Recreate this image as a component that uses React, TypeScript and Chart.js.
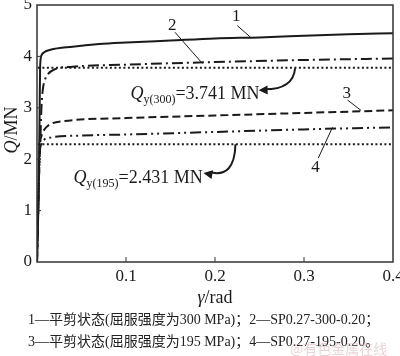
import React, { useEffect, useRef } from "react";
import { Chart, registerables } from "chart.js";

Chart.register(...registerables);

// ---- data ----
const gamma1 = [0, 0.002, 0.003, 0.0035, 0.005, 0.008, 0.015, 0.04, 0.07, 0.1, 0.15, 0.2, 0.25, 0.3, 0.35, 0.4];
const q1 = [0, 1.5, 3.0, 3.8, 4.02, 4.08, 4.13, 4.19, 4.24, 4.27, 4.31, 4.35, 4.37, 4.4, 4.43, 4.45];

const gamma2 = [0, 0.002, 0.004, 0.005, 0.0065, 0.009, 0.012, 0.02, 0.04, 0.1, 0.2, 0.3, 0.4];
const q2 = [0, 1.5, 2.5, 3.0, 3.35, 3.55, 3.65, 3.75, 3.8, 3.84, 3.89, 3.93, 3.96];

const gamma3 = [0, 0.002, 0.003, 0.005, 0.008, 0.015, 0.03, 0.1, 0.2, 0.3, 0.4];
const q3 = [0, 1.5, 2.2, 2.45, 2.57, 2.68, 2.74, 2.8, 2.85, 2.9, 2.95];

const gamma4 = [0, 0.002, 0.003, 0.005, 0.008, 0.015, 0.05, 0.1, 0.2, 0.3, 0.4];
const q4 = [0, 1.5, 2.1, 2.3, 2.38, 2.42, 2.46, 2.48, 2.53, 2.58, 2.62];

const gammaYield = [0.001, 0.4];
const qYield300 = [3.78, 3.78];
const qYield195 = [2.29, 2.29];

const xTicks = [0.1, 0.2, 0.3, 0.4];
const yTicks = [0, 1, 2, 3, 4, 5];

const captionLines = [
  "1—平剪状态(屈服强度为300 MPa)；2—SP0.27-300-0.20；",
  "3—平剪状态(屈服强度为195 MPa)；4—SP0.27-195-0.20。",
];

const pts = (xs: number[], ys: number[]) => xs.map((x, i) => ({ x, y: ys[i] }));

const SERIF = "'Liberation Serif', 'Times New Roman', serif";
const INK = "#1a1a1a";

const decorPlugin = {
  id: "decor",
  afterDatasetsDraw(chart: any) {
    const { ctx, chartArea: a, scales } = chart;
    const xs = scales.x, ys = scales.y;
    const px = (v: number) => xs.getPixelForValue(v);
    const py = (v: number) => ys.getPixelForValue(v);
    ctx.save();
    // frame
    ctx.strokeStyle = "#333";
    ctx.lineWidth = 1.5;
    ctx.strokeRect(a.left, a.top, a.right - a.left, a.bottom - a.top);
    // inward ticks
    ctx.lineWidth = 1;
    ctx.beginPath();
    xTicks.forEach((t) => {
      if (t >= 0.4) return;
      ctx.moveTo(px(t), a.bottom);
      ctx.lineTo(px(t), a.bottom - 5);
    });
    yTicks.forEach((t) => {
      if (t <= 0 || t >= 5) return;
      ctx.moveTo(a.left, py(t));
      ctx.lineTo(a.left + 4, py(t));
    });
    ctx.stroke();

    ctx.fillStyle = INK;
    ctx.strokeStyle = INK;
    ctx.textBaseline = "middle";
    ctx.textAlign = "center";
    ctx.font = `17px ${SERIF}`;
    const labels: [string, number, number][] = [
      ["1", 0.224, 4.78],
      ["2", 0.152, 4.6],
      ["3", 0.348, 3.28],
      ["4", 0.313, 1.84],
    ];
    labels.forEach(([t, x, y]) => ctx.fillText(t, px(x), py(y)));
    // leaders
    ctx.lineWidth = 1;
    const leaders: [number, number, number, number][] = [
      [0.225, 4.6, 0.24, 4.37],
      [0.155, 4.47, 0.186, 3.86],
      [0.349, 3.15, 0.364, 2.95],
      [0.316, 2.02, 0.332, 2.62],
    ];
    ctx.beginPath();
    leaders.forEach(([x0, y0, x1, y1]) => {
      ctx.moveTo(px(x0), py(y0));
      ctx.lineTo(px(x1), py(y1));
    });
    ctx.stroke();

    // Q labels
    const qLabel = (x: number, y: number, sub: string, rest: string) => {
      let cx = px(x);
      const cy = py(y);
      ctx.textAlign = "left";
      ctx.textBaseline = "alphabetic";
      ctx.font = `italic 18px ${SERIF}`;
      ctx.fillText("Q", cx, cy);
      cx += ctx.measureText("Q").width;
      ctx.font = `12px ${SERIF}`;
      ctx.fillText(sub, cx, cy + 4);
      cx += ctx.measureText(sub).width;
      ctx.font = `18px ${SERIF}`;
      ctx.fillText(rest, cx, cy);
    };
    qLabel(0.105, 3.17, "y(300)", "=3.741 MN");
    qLabel(0.041, 1.53, "y(195)", "=2.431 MN");

    // arrows
    const arrow = (sx: number, sy: number, cxv: number, cyv: number, ex: number, ey: number) => {
      const x0 = px(sx), y0 = py(sy), c1 = px(cxv), c2 = py(cyv), x1 = px(ex), y1 = py(ey);
      ctx.lineWidth = 2;
      ctx.beginPath();
      ctx.moveTo(x0, y0);
      ctx.quadraticCurveTo(c1, c2, x1 + 6, y1 - 1);
      ctx.stroke();
      const ang = Math.atan2(y1 - c2, x1 - c1);
      const L = 9, W = 4.5;
      ctx.beginPath();
      ctx.moveTo(x1, y1);
      ctx.lineTo(x1 - L * Math.cos(ang) + W * Math.sin(ang), y1 - L * Math.sin(ang) - W * Math.cos(ang));
      ctx.lineTo(x1 - L * Math.cos(ang) - W * Math.sin(ang), y1 - L * Math.sin(ang) + W * Math.cos(ang));
      ctx.closePath();
      ctx.fill();
    };
    arrow(0.29, 3.77, 0.288, 3.36, 0.249, 3.34);
    arrow(0.223, 2.29, 0.222, 1.62, 0.187, 1.73);

    // axis titles
    ctx.textBaseline = "middle";
    ctx.font = `italic 18px ${SERIF}`;
    const g = "γ";
    ctx.font = `18px ${SERIF}`;
    const restX = "/rad";
    ctx.font = `italic 18px ${SERIF}`;
    const wg = ctx.measureText(g).width;
    ctx.font = `18px ${SERIF}`;
    const wr = ctx.measureText(restX).width;
    let tx = 215 - (wg + wr) / 2;
    ctx.textAlign = "left";
    ctx.font = `italic 18px ${SERIF}`;
    ctx.fillText(g, tx, 298);
    ctx.font = `18px ${SERIF}`;
    ctx.fillText(restX, tx + wg, 298);

    ctx.translate(12, 130);
    ctx.rotate(-Math.PI / 2);
    ctx.font = `italic 18px ${SERIF}`;
    const wq = ctx.measureText("Q").width;
    ctx.font = `18px ${SERIF}`;
    const wm = ctx.measureText("/MN").width;
    const sx0 = -(wq + wm) / 2;
    ctx.font = `italic 18px ${SERIF}`;
    ctx.fillText("Q", sx0, 0);
    ctx.font = `18px ${SERIF}`;
    ctx.fillText("/MN", sx0 + wq, 0);
    ctx.restore();
  },
};

export default function App() {
  const ref = useRef<HTMLCanvasElement | null>(null);
  useEffect(() => {
    document.body.style.margin = "0";
    const base = { fill: false, pointRadius: 0, tension: 0.3, borderColor: INK, cubicInterpolationMode: "monotone" as const };
    const chart = new Chart(ref.current!, {
      type: "line",
      data: {
        datasets: [
          { ...base, label: "1", data: pts(gamma1, q1), borderWidth: 2 },
          { ...base, label: "2", data: pts(gamma2, q2), borderWidth: 2, borderDash: [11, 4, 2, 4] },
          { ...base, label: "3", data: pts(gamma3, q3), borderWidth: 2, borderDash: [8, 4] },
          { ...base, label: "4", data: pts(gamma4, q4), borderWidth: 2, borderDash: [11, 4, 2, 4, 2, 4] },
          { ...base, label: "Qy300", data: pts(gammaYield, qYield300), borderWidth: 2, borderDash: [2, 2.5], tension: 0 },
          { ...base, label: "Qy195", data: pts(gammaYield, qYield195), borderWidth: 2, borderDash: [2, 2.5], tension: 0 },
        ],
      },
      options: {
        animation: false,
        responsive: false,
        events: [],
        layout: { padding: { left: 0, right: 7, top: 5, bottom: 0 } },
        plugins: { legend: { display: false }, tooltip: { enabled: false } },
        scales: {
          x: {
            type: "linear",
            min: 0,
            max: 0.4,
            border: { display: false },
            grid: { display: false, drawTicks: false },
            afterBuildTicks: (s: any) => {
              s.ticks = xTicks.map((v) => ({ value: v }));
            },
            afterFit: (s: any) => {
              s.height = 94;
              s.paddingLeft = 0;
              s.paddingRight = 0;
            },
            ticks: {
              padding: 4,
              color: INK,
              font: { family: SERIF, size: 17 },
              maxRotation: 0,
              autoSkip: false,
              callback: (v: any) => String(v),
            },
          },
          y: {
            min: 0,
            max: 5,
            border: { display: false },
            grid: { display: false, drawTicks: false },
            afterBuildTicks: (s: any) => {
              s.ticks = yTicks.map((v) => ({ value: v }));
            },
            afterFit: (s: any) => {
              s.width = 37;
              s.paddingTop = 0;
              s.paddingBottom = 0;
            },
            ticks: {
              padding: 5,
              color: INK,
              font: { family: SERIF, size: 17 },
              autoSkip: false,
            },
          },
        },
      },
      plugins: [decorPlugin],
    });
    return () => chart.destroy();
  }, []);

  const capStyle: React.CSSProperties = {
    position: "absolute",
    left: 28,
    fontFamily: "'Liberation Serif', 'Noto Sans CJK SC', serif",
    fontSize: 14,
    lineHeight: "16px",
    color: "#222",
    whiteSpace: "nowrap",
  };
  return (
    <div style={{ position: "relative", width: 400, height: 356, overflow: "hidden", background: "#fff" }}>
      <canvas ref={ref} width={400} height={356} style={{ display: "block" }} />
      <div style={{ ...capStyle, top: 312 }}>{captionLines[0]}</div>
      <div style={{ ...capStyle, top: 334 }}>{captionLines[1]}</div>
      <div
        style={{
          position: "absolute",
          left: 290,
          top: 341,
          fontFamily: "'Noto Sans CJK SC', sans-serif",
          fontSize: 14,
          lineHeight: "15px",
          color: "rgba(215,175,180,0.55)",
          whiteSpace: "nowrap",
        }}
      >
        @有色金属在线
      </div>
    </div>
  );
}
